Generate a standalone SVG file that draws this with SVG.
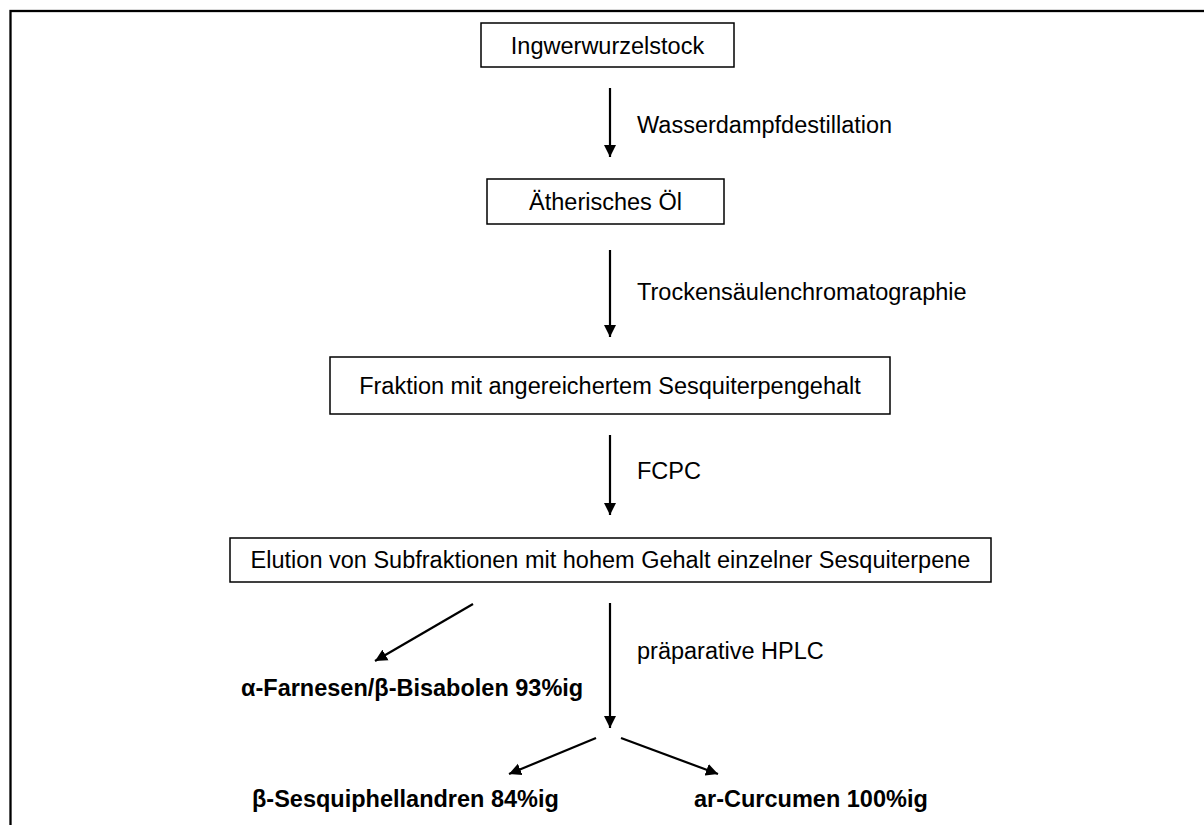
<svg xmlns="http://www.w3.org/2000/svg" width="1204" height="825" viewBox="0 0 1204 825">
<style>
.box{fill:#fff;stroke:#000;stroke-width:1.5}
.t{font-family:"Liberation Sans",Arial,sans-serif;font-size:23.5px;fill:#000}
.b{font-family:"Liberation Sans",Arial,sans-serif;font-size:23.5px;font-weight:bold;fill:#000}
.c{stroke:#000;stroke-width:2.2;fill:none;marker-end:url(#ah)}
</style>
<defs>
<marker id="ah" viewBox="0 0 10 10" refX="10" refY="5" markerWidth="5.5" markerHeight="6" markerUnits="strokeWidth" orient="auto">
<path d="M0,0 L10,5 L0,10 Z" fill="#000"/>
</marker>
</defs>
<rect x="0" y="0" width="1204" height="825" fill="#fff"/>
<rect x="10.5" y="11" width="1210" height="900" fill="none" stroke="#000" stroke-width="2.3"/>
<g id="connectors">
<line class="c" x1="610" y1="88" x2="610" y2="157"/>
<line class="c" x1="610" y1="250" x2="610" y2="337"/>
<line class="c" x1="610" y1="435" x2="610" y2="515"/>
<line class="c" x1="610" y1="603" x2="610" y2="728"/>
<line class="c" x1="473" y1="604" x2="375" y2="661"/>
<line class="c" x1="596" y1="738" x2="509" y2="774"/>
<line class="c" x1="621" y1="738" x2="718" y2="774"/>
<text class="t" x="637" y="133">Wasserdampfdestillation</text>
<text class="t" x="637" y="300">Trockensäulenchromatographie</text>
<text class="t" x="637" y="479">FCPC</text>
<text class="t" x="637" y="659">präparative HPLC</text>
</g>
<g id="n1"><rect class="box" x="481" y="23" width="253" height="44"/><text class="t" x="607.5" y="53.5" text-anchor="middle">Ingwerwurzelstock</text></g>
<g id="n2"><rect class="box" x="487" y="179" width="237" height="45"/><text class="t" x="605.5" y="210" text-anchor="middle">Ätherisches Öl</text></g>
<g id="n3"><rect class="box" x="330" y="357" width="560" height="57"/><text class="t" x="610" y="394" text-anchor="middle">Fraktion mit angereichertem Sesquiterpengehalt</text></g>
<g id="n4"><rect class="box" x="230" y="538" width="761" height="44"/><text class="t" x="610.5" y="568" text-anchor="middle">Elution von Subfraktionen mit hohem Gehalt einzelner Sesquiterpene</text></g>
<g id="n5"><text class="b" x="241" y="696">α-Farnesen/β-Bisabolen 93%ig</text></g>
<g id="n6"><text class="b" x="252" y="807">β-Sesquiphellandren 84%ig</text></g>
<g id="n7"><text class="b" x="694" y="807">ar-Curcumen 100%ig</text></g>
</svg>
